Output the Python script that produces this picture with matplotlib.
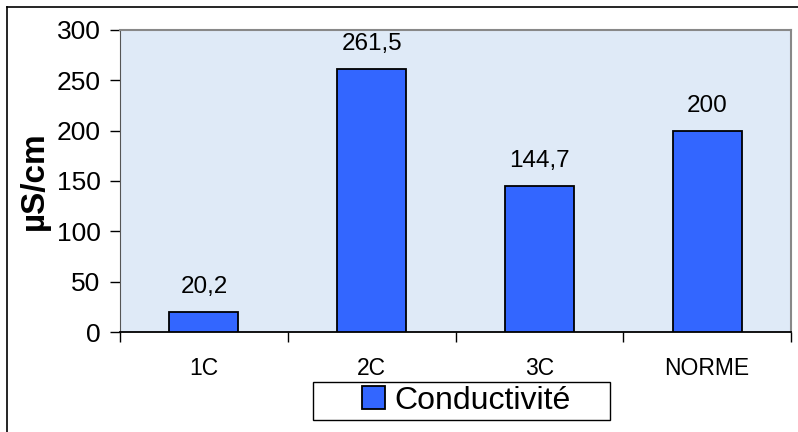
import numpy as np
import matplotlib.pyplot as plt
from matplotlib.lines import Line2D
from matplotlib.patches import Rectangle

plt.rcParams['font.family'] = ['Liberation Sans', 'DejaVu Sans']

categories = ['1C', '2C', '3C', 'NORME']
conductivite = [20.2, 261.5, 144.7, 200]
value_labels = ['20,2', '261,5', '144,7', '200']
y_ticks = [0, 50, 100, 150, 200, 250, 300]

fig = plt.figure(figsize=(7.98, 4.32), dpi=100)
ax = fig.add_axes([120/798, 100/432, 671/798, 302/432])
ax.set_facecolor('#dfeaf7')

x = np.arange(len(categories))
bars = ax.bar(x, conductivite, width=0.41, color='#3366ff',
              edgecolor='black', linewidth=1.3, label='Conductivité', zorder=3)

for xi, v, lab in zip(x, conductivite, value_labels):
    ax.text(xi, v + 14, lab, ha='center', va='bottom', fontsize=17.5)

ax.set_xlim(-0.5, len(categories) - 0.5)
ax.set_ylim(0, 300)
ax.set_yticks(y_ticks)
ax.tick_params(axis='y', labelsize=19, length=7, width=1, pad=7)

# category names without ticks, ticks at group boundaries
ax.set_xticks(x)
ax.set_xticklabels(categories, fontsize=16.5)
ax.tick_params(axis='x', which='major', length=0, pad=18)
ax.set_xticks(np.arange(-0.5, len(categories)), minor=True)
ax.tick_params(axis='x', which='minor', length=7, width=1)

for side in ['top', 'right']:
    ax.spines[side].set_color('#888888')
    ax.spines[side].set_linewidth(1.5)
ax.spines['left'].set_color('#555555')
ax.spines['bottom'].set_linewidth(1.3)

ax.set_ylabel('µS/cm', fontsize=24, fontweight='bold')
ax.yaxis.set_label_coords(-0.105, 0.5)

# legend box drawn separately so it can be wider than its content
fig.add_artist(Rectangle((313/798, (432-420)/432), 297/798, 38/432,
                         transform=fig.transFigure, facecolor='white',
                         edgecolor='black', lw=1))
leg = fig.legend(handles=[bars], loc='center',
                 bbox_to_anchor=(466/798, (432-401)/432),
                 fontsize=23, frameon=False,
                 handlelength=0.72, handleheight=0.72,
                 handletextpad=0.3, borderpad=0.1, borderaxespad=0)

# outer chart frame
fig.add_artist(Line2D([7/798, 7/798], [0, 1 - 7/432], color='black', lw=1.2))
fig.add_artist(Line2D([7/798, 1], [1 - 7/432, 1 - 7/432], color='black', lw=1.2))

fig.savefig('out.png', dpi=100)
